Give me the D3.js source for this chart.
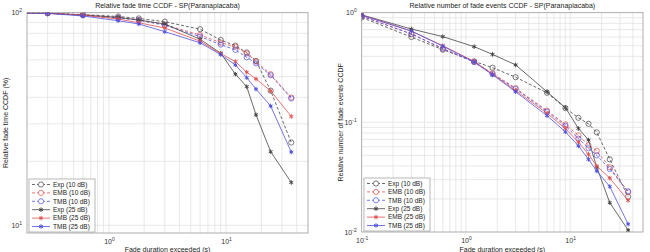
<!DOCTYPE html>
<html>
<head>
<meta charset="utf-8">
<script src="https://cdn.jsdelivr.net/npm/d3@7"></script>
<style>
  body { margin: 0; background: #fff; }
  svg { display: block; font-family: "Liberation Sans", Arial, sans-serif; }
</style>
</head>
<body>
<div id="chart"></div>
<script>
// fade durations (s) shared by both panels
const durations = [0.1, 0.3, 0.6, 1.2, 1.8, 3, 6, 9, 12, 15, 18, 24, 36];
const seriesNames = ['Exp (10 dB)', 'EMB (10 dB)', 'TMB (10 dB)', 'Exp (25 dB)', 'EMB (25 dB)', 'TMB (25 dB)'];

// relative fade time CCDF (%)
const timeExp10 = [100, 99.5, 98, 96, 94, 90.7, 83.6, 74.4, 70, 65, 59.3, 43, 24.5];
const timeEmb10 = [100, 99.4, 97.6, 94.8, 92.5, 87.8, 78.6, 72.3, 69.2, 64.4, 58.9, 51.4, 39.9];
const timeTmb10 = [100, 99.3, 97.3, 94.5, 92.2, 87.3, 77.2, 70.8, 66.8, 61.7, 57.8, 50.8, 39.5];
const timeExp25 = [100, 99.4, 97.5, 95.1, 92.4, 88.5, 75, 64.5, 51.4, 44.9, 33.1, 22.2, 15.9];
const timeEmb25 = [100, 99.4, 97.3, 93.4, 89.7, 84.7, 73.5, 64.2, 58.9, 52.5, 48.8, 42.9, 32.5];
const timeTmb25 = [100, 99.3, 96.5, 91.7, 88.5, 81.4, 72.2, 63.5, 56.8, 49.5, 43.7, 36.4, 22.1];

// relative number of fade events CCDF
const eventsExp10 = [0.905, 0.60, 0.46, 0.36, 0.315, 0.258, 0.186, 0.135, 0.110, 0.097, 0.081, 0.046, 0.021];
const eventsEmb10 = [0.93, 0.64, 0.47, 0.355, 0.28, 0.205, 0.128, 0.096, 0.076, 0.062, 0.055, 0.039, 0.023];
const eventsTmb10 = [0.93, 0.64, 0.47, 0.355, 0.275, 0.202, 0.125, 0.093, 0.071, 0.058, 0.050, 0.0375, 0.0235];
const eventsExp25 = [0.955, 0.71, 0.605, 0.49, 0.417, 0.334, 0.19, 0.136, 0.088, 0.069, 0.039, 0.0185, 0.0104];
const eventsEmb25 = [0.95, 0.68, 0.50, 0.36, 0.275, 0.195, 0.121, 0.088, 0.066, 0.051, 0.040, 0.031, 0.0194];
const eventsTmb25 = [0.95, 0.68, 0.495, 0.355, 0.272, 0.19, 0.115, 0.082, 0.061, 0.046, 0.036, 0.026, 0.0118];

const leftXTicks = [1, 10];
const leftYTicks = [10, 100];
const rightXTicks = [0.1, 1, 10];
const rightYTicks = [0.01, 0.1, 1];

const colors = ['#444', '#e25050', '#5050e0', '#444', '#e25050', '#5050e0'];
const dashed = [true, true, true, false, false, false];

const svg = d3.select('#chart')
    .append('svg')
    .attr('width', 650)
    .attr('height', 252);

const starType = d3.symbolAsterisk || d3.symbolCross;

function supLabel(sel, d) {
    const e = Math.round(Math.log10(d));
    sel.text(null);
    sel.append('tspan').text('10');
    sel.append('tspan').attr('dy', -3).attr('font-size', 5).text(e);
}

function drawPanel(cfg) {
    const { id, left, right, top, bottom, xDomain, yDomain, xTicks, yTicks, series, title, yLabel } = cfg;

    const x = d3.scaleLog().domain(xDomain).range([left, right]);
    const y = d3.scaleLog().domain(yDomain).range([bottom, top]);

    const g = svg.append('g');

    g.append('rect')
        .attr('x', left).attr('y', top)
        .attr('width', right - left).attr('height', bottom - top)
        .attr('fill', '#fff');

    // log grid (major + minor)
    const gridVals = (dom) => {
        const out = [];
        for (let p = Math.floor(Math.log10(dom[0])); p <= Math.ceil(Math.log10(dom[1])); p++) {
            for (let k = 1; k <= 9; k++) {
                const v = k * Math.pow(10, p);
                if (v > dom[0] * 1.0001 && v < dom[1] * 0.9999) out.push(v);
            }
        }
        return out;
    };

    g.selectAll('.vgrid')
        .data(gridVals(xDomain))
        .enter()
        .append('line')
        .attr('x1', d => x(d)).attr('x2', d => x(d))
        .attr('y1', top).attr('y2', bottom)
        .attr('stroke', '#dedede')
        .attr('stroke-width', 0.7);

    g.selectAll('.hgrid')
        .data(gridVals(yDomain))
        .enter()
        .append('line')
        .attr('y1', d => y(d)).attr('y2', d => y(d))
        .attr('x1', left).attr('x2', right)
        .attr('stroke', '#dedede')
        .attr('stroke-width', 0.7);

    // axes box
    g.append('rect')
        .attr('x', left).attr('y', top)
        .attr('width', right - left).attr('height', bottom - top)
        .attr('fill', 'none')
        .attr('stroke', '#9a9a9a')
        .attr('stroke-width', 0.8);

    // tick labels
    const xAxis = g.append('g')
        .attr('transform', `translate(0,${bottom})`)
        .call(d3.axisBottom(x).tickValues(xTicks).tickSize(0).tickPadding(6));
    xAxis.select('.domain').remove();
    xAxis.selectAll('text')
        .attr('font-size', 7)
        .attr('fill', '#333')
        .attr('font-family', '"Liberation Sans", Arial, sans-serif')
        .each(function (d) { supLabel(d3.select(this), d); });

    const yAxis = g.append('g')
        .attr('transform', `translate(${left},0)`)
        .call(d3.axisLeft(y).tickValues(yTicks).tickSize(0).tickPadding(5));
    yAxis.select('.domain').remove();
    yAxis.selectAll('text')
        .attr('font-size', 7)
        .attr('fill', '#333')
        .attr('font-family', '"Liberation Sans", Arial, sans-serif')
        .each(function (d) { supLabel(d3.select(this), d); });

    // clipped data
    svg.append('clipPath')
        .attr('id', 'clip-' + id)
        .append('rect')
        .attr('x', left).attr('y', top)
        .attr('width', right - left).attr('height', bottom - top);

    const plot = g.append('g').attr('clip-path', `url(#clip-${id})`);

    const line = d3.line()
        .x((d, i) => x(durations[i]))
        .y(d => y(d));

    series.forEach((vals, si) => {
        plot.append('path')
            .datum(vals)
            .attr('fill', 'none')
            .attr('stroke', colors[si])
            .attr('stroke-width', 0.8)
            .attr('stroke-dasharray', dashed[si] ? '3,2' : null)
            .attr('d', line);

        const pts = plot.selectAll('.m' + si)
            .data(vals)
            .enter();
        if (dashed[si]) {
            pts.append('circle')
                .attr('cx', (d, i) => x(durations[i]))
                .attr('cy', d => y(d))
                .attr('r', 2.6)
                .attr('fill', 'none')
                .attr('stroke', colors[si])
                .attr('stroke-width', 0.7);
        } else {
            pts.append('path')
                .attr('transform', (d, i) => `translate(${x(durations[i])},${y(d)})`)
                .attr('d', d3.symbol().type(starType).size(14))
                .attr('fill', colors[si])
                .attr('stroke', colors[si])
                .attr('stroke-width', 1);
        }
    });

    // title and labels
    g.append('text')
        .attr('x', (left + right) / 2)
        .attr('y', 8)
        .attr('text-anchor', 'middle')
        .attr('font-size', 7)
        .attr('fill', '#222')
        .text(title);

    g.append('text')
        .attr('x', (left + right) / 2)
        .attr('y', 251.5)
        .attr('text-anchor', 'middle')
        .attr('font-size', 7)
        .attr('fill', '#222')
        .text('Fade duration exceeded (s)');

    g.append('text')
        .attr('transform', `translate(${cfg.yLabelX},${(top + bottom) / 2}) rotate(-90)`)
        .attr('text-anchor', 'middle')
        .attr('font-size', 7)
        .attr('fill', '#222')
        .text(yLabel);

    // legend
    const lg = g.append('g').attr('transform', `translate(${cfg.legendX},${bottom - 54})`);
    lg.append('rect')
        .attr('x', 0).attr('y', 0)
        .attr('width', 66).attr('height', 53)
        .attr('fill', '#fff')
        .attr('stroke', '#9a9a9a')
        .attr('stroke-width', 0.7);

    const rows = lg.selectAll('.row')
        .data(seriesNames)
        .enter()
        .append('g')
        .attr('transform', (d, i) => `translate(0,${5.5 + i * 8.4})`);

    rows.append('line')
        .attr('x1', 3).attr('x2', 21)
        .attr('y1', 0).attr('y2', 0)
        .attr('stroke', (d, i) => colors[i])
        .attr('stroke-width', 0.8)
        .attr('stroke-dasharray', (d, i) => dashed[i] ? '3,2' : null);

    rows.each(function (d, i) {
        const r = d3.select(this);
        if (dashed[i]) {
            r.append('circle').attr('cx', 12).attr('cy', 0).attr('r', 2.6)
                .attr('fill', '#fff').attr('stroke', colors[i]).attr('stroke-width', 0.7);
        } else {
            r.append('path').attr('transform', 'translate(12,0)')
                .attr('d', d3.symbol().type(starType).size(14))
                .attr('fill', colors[i]).attr('stroke', colors[i]).attr('stroke-width', 1);
        }
    });

    rows.append('text')
        .attr('x', 24)
        .attr('y', 2.3)
        .attr('font-size', 6.5)
        .attr('fill', '#222')
        .text(d => d);
}

drawPanel({
    id: 'time',
    left: 27, right: 308, top: 12.7, bottom: 233,
    xDomain: [0.2, 50], yDomain: [9.2, 100],
    xTicks: leftXTicks, yTicks: leftYTicks,
    series: [timeExp10, timeEmb10, timeTmb10, timeExp25, timeEmb25, timeTmb25],
    title: 'Relative fade time CCDF - SP(Paranapiacaba)',
    yLabel: 'Relative fade time CCDF (%)',
    yLabelX: 8,
    legendX: 29
});

drawPanel({
    id: 'events',
    left: 361.7, right: 643, top: 12.7, bottom: 232,
    xDomain: [0.1, 50], yDomain: [0.01, 1],
    xTicks: rightXTicks, yTicks: rightYTicks,
    series: [eventsExp10, eventsEmb10, eventsTmb10, eventsExp25, eventsEmb25, eventsTmb25],
    title: 'Relative number of fade events CCDF - SP(Paranapiacaba)',
    yLabel: 'Relative number of fade events CCDF',
    yLabelX: 343,
    legendX: 364
});
</script>
</body>
</html>
